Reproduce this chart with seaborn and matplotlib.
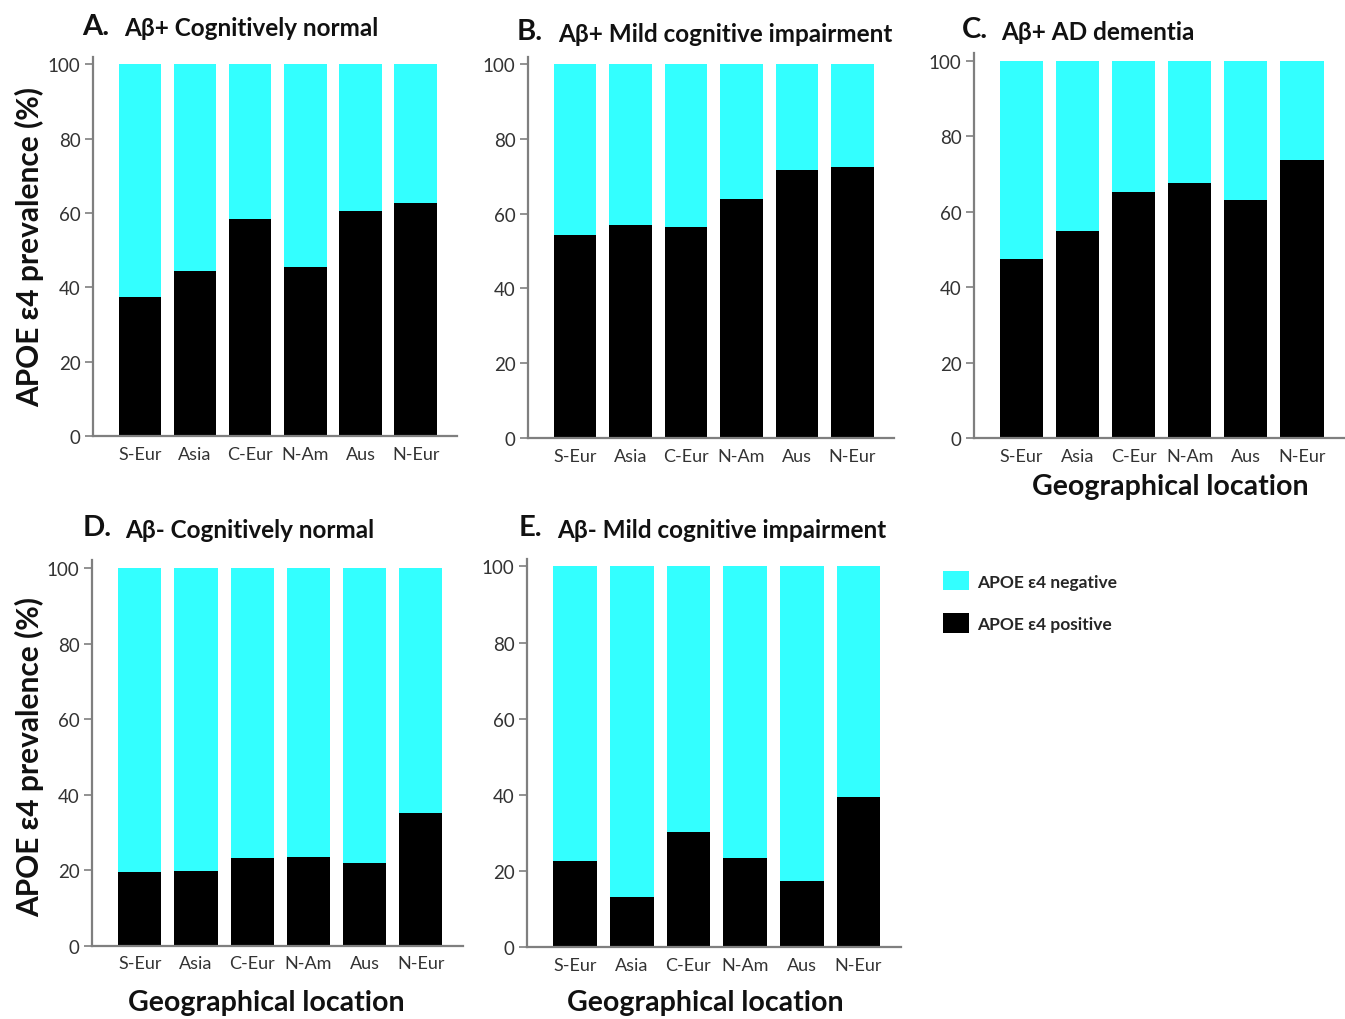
import matplotlib
matplotlib.use("Agg")
import matplotlib.pyplot as plt
from matplotlib.patches import Patch
import pandas as pd
import seaborn as sns

locations = ["S-Eur", "Asia", "C-Eur", "N-Am", "Aus", "N-Eur"]

# Percentage of APOE e4 carriers per region (remainder = non-carriers)
pos_a = [37.5, 44.5, 58.5, 45.5, 60.5, 62.6]
pos_b = [54.4, 56.9, 56.3, 63.9, 71.7, 72.4]
pos_c = [47.5, 54.8, 65.1, 67.6, 63.2, 73.8]
pos_d = [19.4, 19.7, 23.3, 23.5, 21.9, 35.1]
pos_e = [22.7, 13.1, 30.3, 23.4, 17.4, 39.5]

panel_letters = ["A.", "B.", "C.", "D.", "E."]
panel_titles = [
    "Aβ+ Cognitively normal",
    "Aβ+ Mild cognitive impairment",
    "Aβ+ AD dementia",
    "Aβ- Cognitively normal",
    "Aβ- Mild cognitive impairment",
]
legend_labels = ["APOE ε4 negative", "APOE ε4 positive"]
ylabel_text = "APOE ε4 prevalence (%)"
xlabel_text = "Geographical location"

CYAN = "#33FFFF"
BLACK = "#000000"
SPINE = "#7f7f7f"
TICKTXT = "#333333"

sns.set_theme(style="white")
plt.rcParams["font.family"] = ["Lato", "Open Sans", "DejaVu Sans"]

W, H = 1345, 1020
fig = plt.figure(figsize=(W / 100, H / 100), dpi=100)

# axes boxes in pixel coordinates: left, top, right, bottom
boxes = [
    (93, 58, 457, 437),
    (528, 57.5, 894, 439),
    (974, 54, 1344, 439.3),
    (92, 561.4, 463, 946.7),
    (527, 559.7, 901, 948.3),
]
title_pos = [  # letter x, title x, centre y
    (82, 124, 27),
    (517, 558, 32),
    (962, 1001, 30),
    (83, 125, 528),
    (519, 557, 528),
]
all_pos = [pos_a, pos_b, pos_c, pos_d, pos_e]


def px_axes(l, t, r, b):
    return fig.add_axes([l / W, 1 - b / H, (r - l) / W, (b - t) / H])


for i, (box, pos) in enumerate(zip(boxes, all_pos)):
    ax = px_axes(*box)
    df = pd.DataFrame({"location": locations, "positive": pos,
                       "total": [100.0] * len(locations)})
    sns.barplot(data=df, x="location", y="total", color=CYAN, saturation=1,
                width=0.77, ax=ax, edgecolor="none")
    sns.barplot(data=df, x="location", y="positive", color=BLACK, saturation=1,
                width=0.77, ax=ax, edgecolor="none")
    ax.set_xlim(-0.85, 5.75)
    ax.set_ylim(0, 102)
    ax.set_yticks([0, 20, 40, 60, 80, 100])
    ax.set_xlabel("")
    ax.set_ylabel("")
    for s in ["top", "right"]:
        ax.spines[s].set_visible(False)
    for s in ["left", "bottom"]:
        ax.spines[s].set_color(SPINE)
        ax.spines[s].set_linewidth(1.6)
    ax.tick_params(axis="y", which="major", left=True, length=6, width=1.2,
                   color=SPINE, labelsize=13.5, labelcolor=TICKTXT, pad=3)
    ax.tick_params(axis="x", which="major", bottom=False, labelsize=13,
                   labelcolor=TICKTXT, pad=1)
    ax.grid(False)

    lx, tx, ty = title_pos[i]
    fig.text(lx / W, 1 - ty / H, panel_letters[i], fontsize=21,
             fontweight="bold", va="center", ha="left", color="#111111")
    fig.text(tx / W, 1 - (ty + 2) / H, panel_titles[i], fontsize=17.5,
             fontweight="bold", va="center", ha="left", color="#111111")

# shared axis labels
for yc in (247, 757):
    fig.text(30 / W, 1 - yc / H, ylabel_text, rotation=90, fontsize=21.5,
             fontweight="bold", va="center", ha="center", color="#111111")
for xc, yc in ((1170, 487), (266, 1003), (705, 1003)):
    fig.text(xc / W, 1 - yc / H, xlabel_text, fontsize=20.5,
             fontweight="bold", va="center", ha="center", color="#111111")

handles = [Patch(facecolor=CYAN, edgecolor="none"),
           Patch(facecolor=BLACK, edgecolor="none")]
fig.legend(handles, legend_labels, loc="upper left",
           bbox_to_anchor=(943 / W, 1 - 572 / H), frameon=False,
           borderpad=0, borderaxespad=0,
           handlelength=1.5, handleheight=1.35, handletextpad=0.45,
           labelspacing=1.3, prop={"weight": "bold", "size": 12.5})

fig.savefig("out.png", dpi=100)
